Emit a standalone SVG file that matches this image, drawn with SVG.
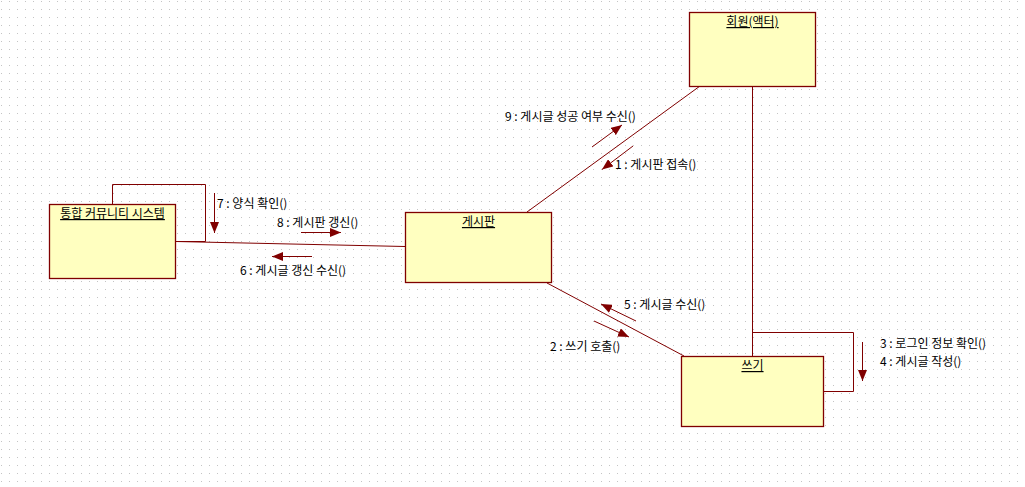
<svg xmlns="http://www.w3.org/2000/svg" width="1025" height="487" viewBox="0 0 1025 487">
<defs>
<pattern id="grid" x="0" y="0" width="8" height="8" patternUnits="userSpaceOnUse">
<rect x="1" y="1" width="1" height="1" fill="#c4c4c4"/>
</pattern>
<marker id="ah" markerUnits="userSpaceOnUse" markerWidth="11" markerHeight="9" refX="11" refY="4.5" orient="auto">
<path d="M0,0 L11,4.5 L0,9 Z" fill="#800000"/>
</marker>
</defs>
<style>
.node rect{fill:#ffffc0;stroke:#800000;stroke-width:1.3}
.nl{font-family:"Noto Sans CJK KR","Liberation Sans",sans-serif;font-size:12px;fill:#000;text-anchor:middle;text-decoration:underline}
.conn line,.conn polyline{stroke:#800000;stroke-width:1;fill:none}
.msg line{stroke:#800000;stroke-width:1;marker-end:url(#ah)}
.ml{font-family:"Noto Sans CJK KR","Liberation Sans",sans-serif;font-size:12px;fill:#000}
</style>
<rect width="1025" height="487" fill="#ffffff"/>
<rect width="1025" height="487" fill="url(#grid)"/>

<g id="connectors" class="conn">
<polyline points="112.5,204 112.5,184.5 205.5,184.5 205.5,241.5 176,241.5"/>
<line x1="176" y1="241.5" x2="405" y2="246.5"/>
<line x1="700" y1="86" x2="527" y2="212"/>
<line x1="547" y1="283" x2="684" y2="356"/>
<line x1="752.5" y1="86" x2="752.5" y2="356"/>
<polyline points="752.5,332.5 853.5,332.5 853.5,391.5 823,391.5"/>
<line x1="176" y1="241.5" x2="205" y2="241.5" stroke-width="2"/>
</g>

<g id="messages" class="msg">
<line x1="214.5" y1="193" x2="214.5" y2="233"/>
<line x1="301" y1="232.5" x2="341" y2="232.5"/>
<line x1="312" y1="256.5" x2="272" y2="256.5"/>
<line x1="592" y1="147" x2="622" y2="125"/>
<line x1="633" y1="146" x2="602" y2="169.5"/>
<line x1="636" y1="321" x2="601" y2="304"/>
<line x1="594" y1="321" x2="629" y2="337"/>
<line x1="862.5" y1="342" x2="862.5" y2="381"/>
</g>

<g id="labels">
<text class="ml" x="217" y="208">7 : 양식 확인()</text>
<text class="ml" x="277" y="227">8 : 게시판 갱신()</text>
<text class="ml" x="240" y="275">6 : 게시글 갱신 수신()</text>
<text class="ml" x="505" y="121">9 : 게시글 성공 여부 수신()</text>
<text class="ml" x="615" y="169">1 : 게시판 접속()</text>
<text class="ml" x="624" y="309">5 : 게시글 수신()</text>
<text class="ml" x="550" y="351">2 : 쓰기 호출()</text>
<text class="ml" x="880" y="348">3 : 로그인 정보 확인()</text>
<text class="ml" x="880" y="366">4 : 게시글 작성()</text>
</g>

<g id="node-member" class="node">
<rect x="689.5" y="12.5" width="126" height="74"/>
<text class="nl" x="752.5" y="26">회원(액터)</text>
</g>
<g id="node-system" class="node">
<rect x="49.5" y="204.5" width="126" height="74"/>
<text class="nl" x="112.5" y="218">통합 커뮤니티 시스템</text>
</g>
<g id="node-board" class="node">
<rect x="405.5" y="212.5" width="146" height="70"/>
<text class="nl" x="478.5" y="226">게시판</text>
</g>
<g id="node-write" class="node">
<rect x="681.5" y="356.5" width="142" height="70"/>
<text class="nl" x="752.5" y="370">쓰기</text>
</g>
</svg>
